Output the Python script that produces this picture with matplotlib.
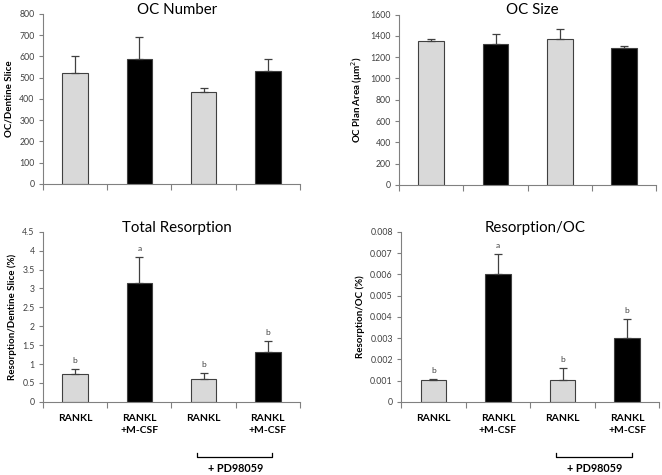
import numpy as np
import matplotlib.pyplot as plt

categories = ["RANKL", "RANKL\n+M-CSF", "RANKL", "RANKL\n+M-CSF"]

oc_number = [520, 587, 430, 533]
oc_number_err = [80, 105, 22, 55]

oc_size = [1355, 1325, 1375, 1285]
oc_size_err = [20, 95, 90, 20]

total_res = [0.73, 3.15, 0.60, 1.32]
total_res_err = [0.13, 0.67, 0.16, 0.28]
total_res_letters = ["b", "a", "b", "b"]

res_per_oc = [0.00101, 0.00600, 0.00101, 0.00300]
res_per_oc_err = [0.00005, 0.00097, 0.00058, 0.00088]
res_per_oc_letters = ["b", "a", "b", "b"]

bar_colors = ["#d9d9d9", "#000000", "#d9d9d9", "#000000"]
plt.rcParams['font.family'] = ['Lato', 'DejaVu Sans']

fig = plt.figure(figsize=(6.62, 4.75), dpi=100)


def draw_panel(rect, vals, errs, title, ylabel, ymax, ystep, fmt, letters=None, xlabels=False):
    ax = fig.add_axes(rect)
    x = np.arange(len(vals))
    ax.bar(x, vals, width=0.4, color=bar_colors, edgecolor="#404040", linewidth=0.8, zorder=2)
    ax.errorbar(x, vals, yerr=[np.zeros(len(errs)), errs], fmt="none",
                ecolor="#404040", elinewidth=0.9, capsize=3, capthick=0.9, zorder=3)
    ax.set_xlim(-0.5, len(vals) - 0.5)
    ax.set_ylim(0, ymax)
    ticks = np.arange(0, ymax + ystep / 2, ystep)
    ax.set_yticks(ticks)
    ax.set_yticklabels([fmt(t) for t in ticks], fontsize=6.3, color="#404040")
    ax.set_xticks(np.arange(-0.5, len(vals), 1.0))
    ax.set_xticklabels([])
    ax.tick_params(axis="x", length=4, color="#808080", direction="out")
    ax.tick_params(axis="y", length=3, color="#808080", direction="out", pad=3)
    for s in ["top", "right"]:
        ax.spines[s].set_visible(False)
    for s in ["left", "bottom"]:
        ax.spines[s].set_color("#808080")
        ax.spines[s].set_linewidth(0.8)
    # title sits low, partly beside the top of the y axis
    ax.text(0.52, 1.025, title, transform=ax.transAxes, ha="center", va="center", fontsize=10.8)
    ax.set_ylabel(ylabel, fontsize=7, fontweight="bold", labelpad=4)
    if letters:
        for xi, v, e, lt in zip(x, vals, errs, letters):
            ax.text(xi, v + e + ymax * 0.03, lt, ha="center", va="bottom", fontsize=6, color="#404040")
    if xlabels:
        for xi, lab in zip(x, categories):
            ax.text(xi, -0.07, lab, transform=ax.get_xaxis_transform(), ha="center", va="top",
                    fontsize=7.5, fontweight="bold", linespacing=1.5)
        tr = ax.get_xaxis_transform()
        ax.plot([1.9, 1.9, 3.07, 3.07], [-0.30, -0.325, -0.325, -0.30], transform=tr,
                color="black", linewidth=0.9, clip_on=False)
        ax.text(2.5, -0.36, "+ PD98059", transform=tr, ha="center", va="top",
                fontsize=7.8, fontweight="bold")
    return ax


draw_panel([0.065, 0.613, 0.388, 0.358], oc_number, oc_number_err, "OC Number",
           "OC/Dentine Slice", 800, 100, lambda t: f"{t:.0f}")
draw_panel([0.603, 0.611, 0.388, 0.358], oc_size, oc_size_err, "OC Size",
           "OC Plan Area (\u03bcm$^2$)", 1600, 200, lambda t: f"{t:.0f}")
draw_panel([0.065, 0.154, 0.388, 0.358], total_res, total_res_err, "Total Resorption",
           "Resorption/Dentine Slice (%)", 4.5, 0.5, lambda t: f"{t:g}",
           letters=total_res_letters, xlabels=True)
draw_panel([0.606, 0.154, 0.39, 0.358], res_per_oc, res_per_oc_err, "Resorption/OC",
           "Resorption/OC (%)", 0.008, 0.001, lambda t: "0" if t == 0 else f"{t:.3f}",
           letters=res_per_oc_letters, xlabels=True)

fig.savefig("out.png", dpi=100)
